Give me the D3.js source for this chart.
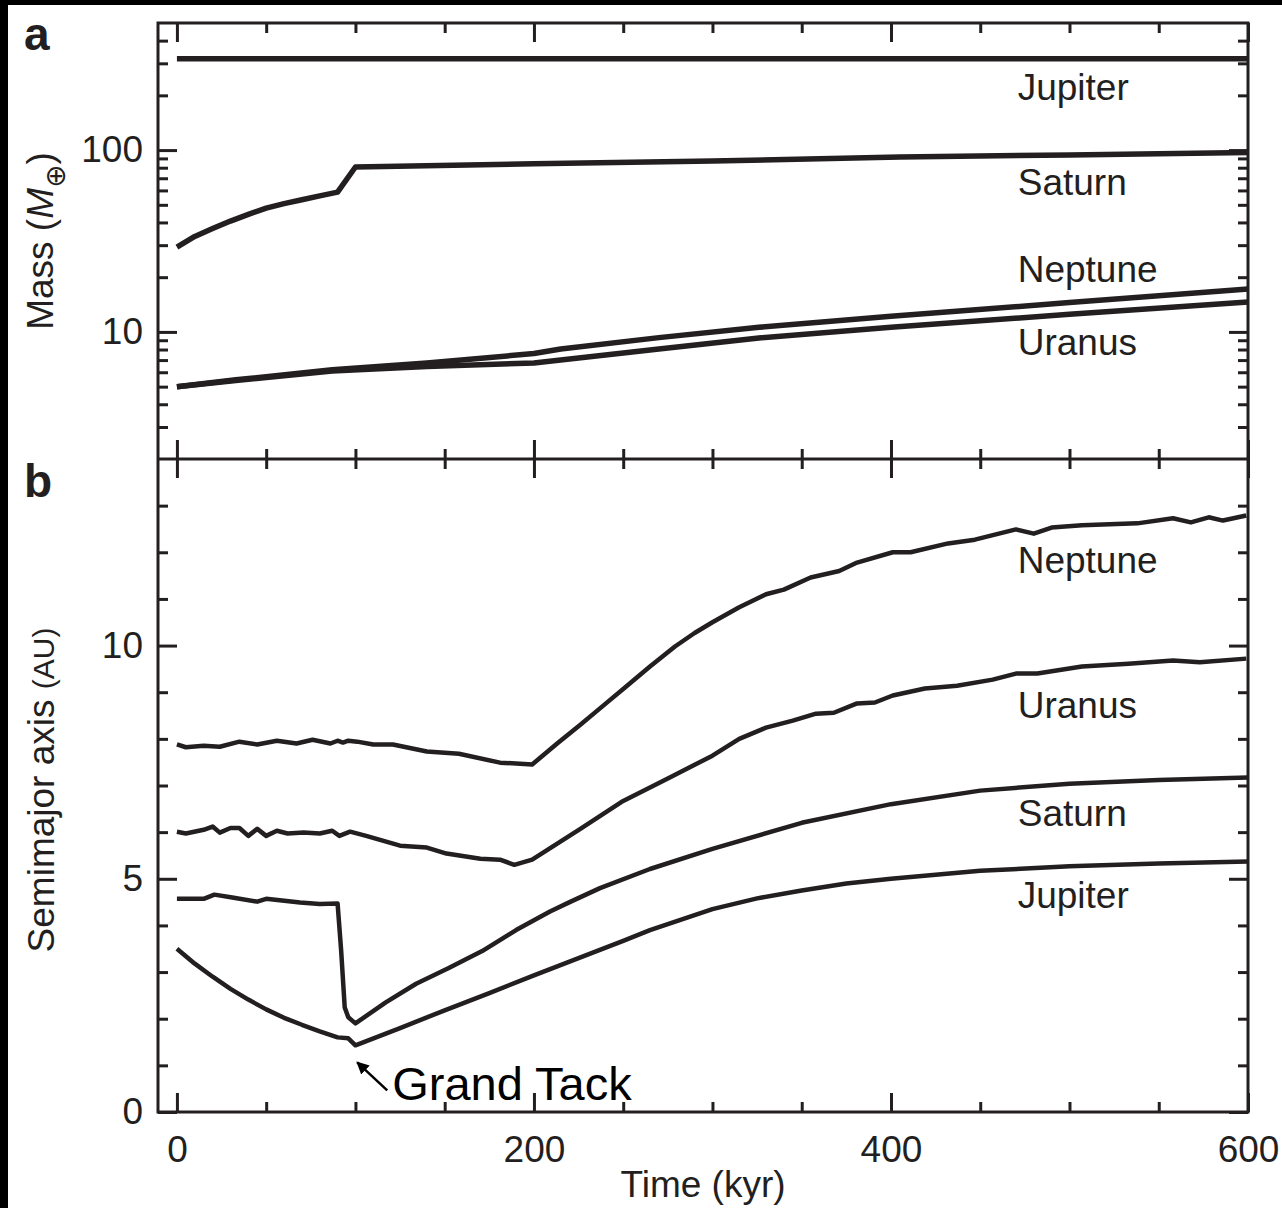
<!DOCTYPE html>
<html>
<head>
<meta charset="utf-8">
<script src="https://cdn.jsdelivr.net/npm/d3@7"></script>
<style>
  body { margin: 0; background: #000; }
  svg { display: block; }
  text { font-family: "Liberation Sans", Arial, Helvetica, sans-serif; fill: #231f20; }
</style>
</head>
<body>
<svg id="chart" width="1282" height="1208"></svg>
<script>
// ---- data: panel a, mass (Earth masses) vs time (kyr)
const jupiterMass = [[0, 318], [600, 318]];
const saturnMass = [[0, 29.3], [10, 33.5], [20, 37], [30, 40.7], [40, 44.3], [50, 48], [60, 50.8], [70, 53.3], [80, 56], [90, 58.7], [100, 80.7], [200, 84], [300, 87], [405, 91.6], [500, 94], [600, 97]];
const neptuneMass = [[0, 5.0], [33, 5.45], [87, 6.2], [140, 6.75], [200, 7.6], [215, 8.05], [270, 9.3], [326, 10.6], [400, 12.2], [500, 14.5], [600, 17.2]];
const uranusMass = [[0, 5.0], [33, 5.4], [87, 6.1], [140, 6.45], [200, 6.75], [215, 7.0], [270, 8.05], [326, 9.26], [400, 10.6], [500, 12.5], [600, 14.6]];

// ---- data: panel b, semimajor axis (AU) vs time (kyr)
const neptuneA = [[0, 7.88], [5, 7.82], [15, 7.85], [24, 7.83], [35, 7.94], [45, 7.88], [56, 7.96], [67, 7.9], [76, 7.98], [86, 7.9], [90, 7.96], [93, 7.92], [96, 7.96], [101, 7.94], [110, 7.88], [121, 7.88], [140, 7.73], [158, 7.68], [181, 7.49], [199, 7.45], [213, 7.9], [226, 8.3], [240, 8.75], [251, 9.1], [265, 9.55], [279, 9.98], [290, 10.27], [300, 10.5], [315, 10.82], [330, 11.1], [340, 11.2], [355, 11.46], [371, 11.6], [381, 11.78], [401, 12.0], [411, 12.0], [432, 12.19], [447, 12.27], [470, 12.49], [480, 12.4], [490, 12.53], [507, 12.58], [538, 12.62], [558, 12.73], [568, 12.64], [578, 12.75], [586, 12.68], [599, 12.79]];
const uranusA = [[0, 6.01], [5, 5.97], [15, 6.05], [20, 6.12], [24, 5.99], [30, 6.09], [35, 6.09], [40, 5.92], [45, 6.07], [50, 5.92], [56, 6.03], [62, 5.97], [71, 5.99], [80, 5.97], [87, 6.03], [91, 5.92], [97, 6.01], [106, 5.92], [125, 5.71], [140, 5.67], [151, 5.54], [170, 5.43], [181, 5.41], [189, 5.3], [199, 5.41], [226, 6.07], [250, 6.67], [275, 7.15], [300, 7.64], [315, 8.0], [330, 8.24], [345, 8.39], [358, 8.54], [368, 8.56], [381, 8.76], [391, 8.78], [401, 8.93], [419, 9.08], [437, 9.14], [457, 9.27], [470, 9.4], [482, 9.4], [507, 9.55], [533, 9.61], [558, 9.68], [573, 9.64], [599, 9.72]];
const saturnA = [[0, 4.57], [15, 4.57], [21, 4.66], [31, 4.6], [45, 4.51], [50, 4.57], [69, 4.49], [80, 4.46], [90, 4.47], [92, 3.46], [94, 2.24], [96, 2.03], [100, 1.9], [117, 2.35], [134, 2.75], [152, 3.08], [171, 3.45], [190, 3.9], [209, 4.3], [220, 4.5], [237, 4.8], [265, 5.21], [300, 5.64], [350, 6.2], [400, 6.6], [450, 6.89], [500, 7.04], [550, 7.12], [600, 7.17]];
const jupiterA = [[0, 3.5], [10, 3.18], [20, 2.9], [30, 2.64], [40, 2.41], [50, 2.2], [60, 2.02], [70, 1.87], [80, 1.73], [90, 1.6], [96, 1.58], [100, 1.43], [125, 1.8], [150, 2.18], [175, 2.55], [200, 2.93], [225, 3.3], [250, 3.67], [265, 3.9], [300, 4.35], [325, 4.58], [350, 4.75], [375, 4.9], [400, 5.0], [450, 5.17], [500, 5.27], [550, 5.33], [600, 5.37]];

// ---- ticks
const xMajor = [0, 200, 400, 600];
const xMinor = [50, 100, 150, 250, 300, 350, 450, 500, 550];
const massMajor = [10, 100];
const massMinor = [3, 4, 5, 6, 7, 8, 9, 20, 30, 40, 50, 60, 70, 80, 90, 200, 300, 400];
const axisMajor = [0, 5, 10];
const axisMinor = [1, 2, 3, 4, 6, 7, 8, 9, 11, 12, 13];

const ink = '#231f20';
const svg = d3.select('#chart');
svg.append('rect').attr('width', 1282).attr('height', 1208).attr('fill', '#000');
svg.append('rect').attr('x', 8).attr('y', 5).attr('width', 1274).attr('height', 1203).attr('fill', '#fff');

const pLeft = 158, pRight = 1248, pTop = 23, pMid = 459, pBottom = 1112;

const x = d3.scaleLinear().domain([-10.6, 600]).range([pLeft, pRight]);
const yA = d3.scaleLog().domain([2, 500]).range([pMid, pTop]);
const yB = d3.scaleLinear().domain([0, 14]).range([pBottom, pMid]);

const MAJ = 19, MIN = 10, FS = 37;

function styleAxis(g) {
  g.select('.domain').remove();
  g.attr('color', ink).attr('font-size', FS).attr('font-family', '"Liberation Sans", Arial, sans-serif');
  g.selectAll('line').attr('stroke-width', 3);
}

function addAxis(axis, tx, ty) {
  svg.append('g').attr('transform', 'translate(' + tx + ',' + ty + ')').call(axis).call(styleAxis);
}

// x ticks, all pointing inward
addAxis(d3.axisTop(x).tickValues(xMajor).tickSize(-MAJ).tickFormat(''), 0, pTop);
addAxis(d3.axisTop(x).tickValues(xMinor).tickSize(-MIN).tickFormat(''), 0, pTop);
addAxis(d3.axisBottom(x).tickValues(xMajor).tickSize(-MAJ).tickFormat(''), 0, pMid);
addAxis(d3.axisBottom(x).tickValues(xMinor).tickSize(-MIN).tickFormat(''), 0, pMid);
addAxis(d3.axisTop(x).tickValues(xMajor).tickSize(-MAJ).tickFormat(''), 0, pMid);
addAxis(d3.axisTop(x).tickValues(xMinor).tickSize(-MIN).tickFormat(''), 0, pMid);
addAxis(d3.axisBottom(x).tickValues(xMajor).tickSize(-MAJ).tickPadding(24).tickFormat(d3.format('d')), 0, pBottom);
addAxis(d3.axisBottom(x).tickValues(xMinor).tickSize(-MIN).tickFormat(''), 0, pBottom);

// panel a y ticks
addAxis(d3.axisLeft(yA).tickValues(massMajor).tickSize(-MAJ).tickPadding(15).tickFormat(d3.format('d')), pLeft, 0);
addAxis(d3.axisLeft(yA).tickValues(massMinor).tickSize(-MIN).tickFormat(''), pLeft, 0);
addAxis(d3.axisRight(yA).tickValues(massMajor).tickSize(-MAJ).tickFormat(''), pRight, 0);
addAxis(d3.axisRight(yA).tickValues(massMinor).tickSize(-MIN).tickFormat(''), pRight, 0);

// panel b y ticks
addAxis(d3.axisLeft(yB).tickValues(axisMajor).tickSize(-MAJ).tickPadding(15).tickFormat(d3.format('d')), pLeft, 0);
addAxis(d3.axisLeft(yB).tickValues(axisMinor).tickSize(-MIN).tickFormat(''), pLeft, 0);
addAxis(d3.axisRight(yB).tickValues(axisMajor).tickSize(-MAJ).tickFormat(''), pRight, 0);
addAxis(d3.axisRight(yB).tickValues(axisMinor).tickSize(-MIN).tickFormat(''), pRight, 0);

// frame
svg.append('rect').attr('x', pLeft).attr('y', pTop).attr('width', pRight - pLeft).attr('height', pBottom - pTop)
  .attr('fill', 'none').attr('stroke', ink).attr('stroke-width', 3);
svg.append('line').attr('x1', pLeft).attr('x2', pRight).attr('y1', pMid).attr('y2', pMid)
  .attr('stroke', ink).attr('stroke-width', 3);

// curves
const lineA = d3.line().x(d => x(d[0])).y(d => yA(d[1]));
const lineB = d3.line().x(d => x(d[0])).y(d => yB(d[1]));

[jupiterMass, saturnMass, neptuneMass, uranusMass].forEach(function (s) {
  svg.append('path').attr('d', lineA(s)).attr('fill', 'none').attr('stroke', ink)
    .attr('stroke-width', 5.5).attr('stroke-linejoin', 'round');
});
[neptuneA, uranusA, saturnA, jupiterA].forEach(function (s) {
  svg.append('path').attr('d', lineB(s)).attr('fill', 'none').attr('stroke', ink)
    .attr('stroke-width', 4.5).attr('stroke-linejoin', 'round');
});

// planet labels
const labelX = x(471);
const labelsA = [['Jupiter', 188], ['Saturn', 56.6], ['Neptune', 18.8], ['Uranus', 7.47]];
const labelsB = [['Neptune', 11.56], ['Uranus', 8.45], ['Saturn', 6.13], ['Jupiter', 4.37]];
labelsA.forEach(function (l) {
  svg.append('text').attr('x', labelX).attr('y', yA(l[1])).attr('font-size', FS).text(l[0]);
});
labelsB.forEach(function (l) {
  svg.append('text').attr('x', labelX).attr('y', yB(l[1])).attr('font-size', FS).text(l[0]);
});

// panel letters
svg.append('text').attr('x', 24).attr('y', 50).attr('font-size', 46).attr('font-weight', 'bold').text('a');
svg.append('text').attr('x', 24).attr('y', 497).attr('font-size', 46).attr('font-weight', 'bold').text('b');

// axis titles
svg.append('text').attr('x', (pLeft + pRight) / 2).attr('y', 1197).attr('text-anchor', 'middle')
  .attr('font-size', FS).text('Time (kyr)');

const massTitle = svg.append('text').attr('transform', 'translate(53,' + ((pTop + pMid) / 2) + ') rotate(-90)')
  .attr('text-anchor', 'middle').attr('font-size', FS);
massTitle.append('tspan').text('Mass (');
massTitle.append('tspan').attr('font-style', 'italic').text('M');
massTitle.append('tspan').attr('font-size', 28).attr('dy', 12).attr('font-family', '"DejaVu Sans", sans-serif').text('\u2295');
massTitle.append('tspan').attr('dy', -12).text(')');

const axisTitle = svg.append('text').attr('transform', 'translate(54,790) rotate(-90)')
  .attr('text-anchor', 'middle').attr('font-size', FS);
axisTitle.append('tspan').text('Semimajor axis ');
axisTitle.append('tspan').attr('font-size', 30).text('(AU)');

// Grand Tack annotation
const tipX = x(101), tipY = yB(1.43) + 17;
svg.append('defs').append('marker').attr('id', 'head').attr('viewBox', '0 0 10 10')
  .attr('refX', 9).attr('refY', 5).attr('markerWidth', 5).attr('markerHeight', 5)
  .attr('orient', 'auto-start-reverse')
  .append('path').attr('d', 'M0,0L10,5L0,10z').attr('fill', '#000');
svg.append('line').attr('x1', tipX + 30).attr('y1', tipY + 28).attr('x2', tipX).attr('y2', tipY)
  .attr('stroke', '#000').attr('stroke-width', 2.5).attr('marker-end', 'url(#head)');
svg.append('text').attr('x', tipX + 35).attr('y', 1100).attr('font-size', 47).style('fill', '#000').text('Grand Tack');
</script>
</body>
</html>
